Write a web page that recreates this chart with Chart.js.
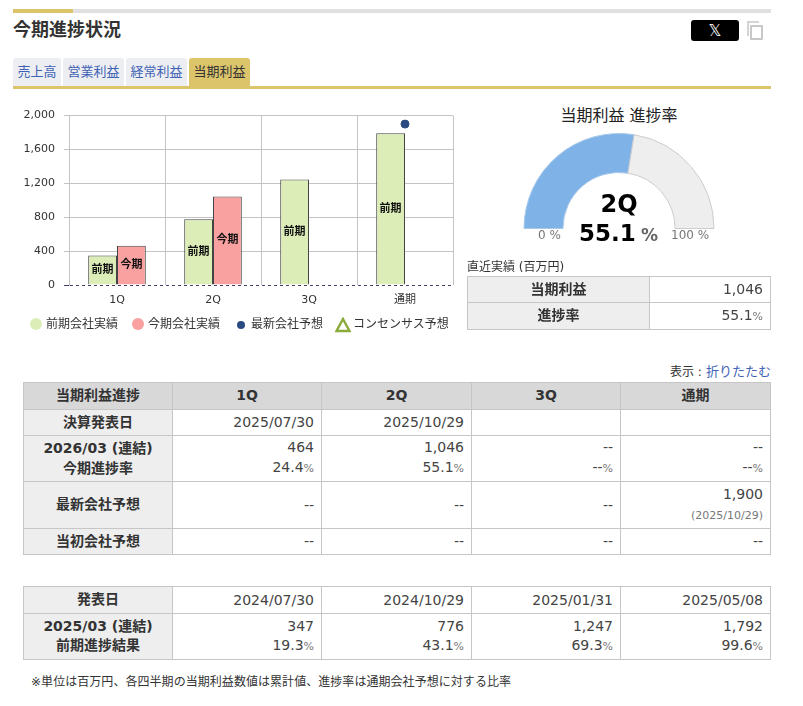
<!DOCTYPE html>
<html lang="ja">
<head>
<meta charset="utf-8">
<script src="https://cdn.jsdelivr.net/npm/chart.js@4"></script>
<style>
* { box-sizing: border-box; }
html, body { margin: 0; padding: 0; background: #fff; }
body { position: relative; width: 803px; height: 706px; overflow: hidden; color: #333; font-family: "DejaVu Sans", "Noto Sans CJK JP", sans-serif; }
.abs { position: absolute; white-space: nowrap; }
.tab { position: absolute; top: 58px; height: 28px; line-height: 27px; text-align: center; font-size: 13px; color: #3f62b5; background: #eceef2; border-radius: 3px 3px 0 0; }
.tab.on { background: #dcc46b; color: #333; }
table { position: absolute; border-collapse: collapse; table-layout: fixed; font-size: 14px; }
td, th { border: 1px solid #c6c6c6; padding: 0 7px 1px 0; text-align: right; font-weight: normal; line-height: 20px; color: #444; }
th { text-align: center; background: #eee; font-weight: bold; padding: 0 0 2px 0; color: #333; }
tr.head th { background: #d8d8d8; }
small { font-size: 11px; color: #777; }
.dot { position: absolute; border-radius: 50%; }
.leg { position: absolute; top: 317px; font-size: 12px; line-height: 15px; white-space: nowrap; }
</style>
</head>
<body>
<div class="abs" style="left:13px;top:9px;width:758px;height:4px;background:#e0e0e0"></div>
<div class="abs" style="left:13px;top:9px;width:60px;height:4px;background:#dcc46b"></div>
<div class="abs" style="left:13px;top:19px;font-size:18px;line-height:22px;font-weight:bold">今期進捗状況</div>
<div class="abs" style="left:691px;top:20px;width:48px;height:21px;background:#000;border-radius:3px;color:#fff;text-align:center;font-size:16px;line-height:21px">𝕏</div>
<div class="abs" style="left:747px;top:21px;width:12px;height:15px;border:2px solid #d4d4d4;border-right:0;border-bottom:0"></div>
<div class="abs" style="left:750px;top:25px;width:13px;height:15px;border:2px solid #c8c8c8;border-radius:1px"></div>

<div class="tab" style="left:13px;width:48px">売上高</div>
<div class="tab" style="left:63px;width:61px">営業利益</div>
<div class="tab" style="left:126px;width:61px">経常利益</div>
<div class="tab on" style="left:189px;width:61px">当期利益</div>
<div class="abs" style="left:13px;top:86px;width:758px;height:3px;background:#dcc46b"></div>

<canvas id="bars" class="abs" width="460" height="220" style="left:0;top:100px"></canvas>

<div class="dot" style="left:30px;top:318px;width:12px;height:12px;background:#dcedb8"></div>
<div class="leg" style="left:46px">前期会社実績</div>
<div class="dot" style="left:132px;top:318px;width:12px;height:12px;background:#f9a0a0"></div>
<div class="leg" style="left:148px">今期会社実績</div>
<div class="dot" style="left:237px;top:321px;width:8px;height:8px;background:#2b4a80"></div>
<div class="leg" style="left:251px">最新会社予想</div>
<svg class="abs" style="left:335px;top:317px" width="16" height="16"><path d="M8 2 L14.5 14 L1.5 14 Z" fill="none" stroke="#8aaa3a" stroke-width="2.4"/></svg>
<div class="leg" style="left:353px">コンセンサス予想</div>

<div class="abs" style="left:519px;width:200px;top:106px;text-align:center;font-size:16px;line-height:20px;color:#222">当期利益 進捗率</div>
<canvas id="gauge" class="abs" width="194" height="98" style="left:522px;top:132px"></canvas>
<div class="abs" style="left:569px;width:100px;top:189px;text-align:center;font-size:24px;line-height:30px;font-weight:bold;color:#000">2Q</div>
<div class="abs" style="left:579px;top:218px;font-size:23px;line-height:30px;font-weight:bold;color:#000">55.1</div>
<div class="abs" style="left:641px;top:222px;font-size:17px;line-height:26px;font-weight:bold;color:#666">%</div>
<div class="abs" style="left:538px;top:228px;font-size:12px;line-height:15px;color:#777">0 %</div>
<div class="abs" style="left:671px;top:228px;font-size:12px;line-height:15px;color:#777">100 %</div>

<div class="abs" style="left:467px;top:260px;font-size:12px;line-height:15px">直近実績 (百万円)</div>
<table style="left:467px;top:276px;width:303px">
<colgroup><col style="width:182px"><col style="width:121px"></colgroup>
<tr style="height:26px"><th>当期利益</th><td>1,046</td></tr>
<tr style="height:27px"><th>進捗率</th><td>55.1<small>%</small></td></tr>
</table>

<div class="abs" style="right:32px;top:364px;font-size:13px;line-height:16px"><span style="font-size:12px">表示 :</span> <span style="color:#3f62b5">折りたたむ</span></div>
<table style="left:23px;top:382px;width:747px">
<colgroup><col style="width:149px"><col style="width:149px"><col style="width:150px"><col style="width:149px"><col style="width:150px"></colgroup>
<tr class="head" style="height:27px"><th>当期利益進捗</th><th>1Q</th><th>2Q</th><th>3Q</th><th>通期</th></tr>
<tr style="height:26px"><th>決算発表日</th><td>2025/07/30</td><td>2025/10/29</td><td></td><td></td></tr>
<tr style="height:46px"><th>2026/03 (連結)<br>今期進捗率</th><td>464<br>24.4<small>%</small></td><td>1,046<br>55.1<small>%</small></td><td>--<br>--<small>%</small></td><td>--<br>--<small>%</small></td></tr>
<tr style="height:47px"><th>最新会社予想</th><td>--</td><td>--</td><td>--</td><td>1,900<br><small>(2025/10/29)</small></td></tr>
<tr style="height:26px"><th>当初会社予想</th><td>--</td><td>--</td><td>--</td><td>--</td></tr>
</table>

<table style="left:23px;top:586px;width:747px;line-height:19px">
<colgroup><col style="width:149px"><col style="width:149px"><col style="width:150px"><col style="width:149px"><col style="width:150px"></colgroup>
<tr style="height:27px"><th>発表日</th><td>2024/07/30</td><td>2024/10/29</td><td>2025/01/31</td><td>2025/05/08</td></tr>
<tr style="height:46px"><th style="line-height:19px">2025/03 (連結)<br>前期進捗結果</th><td style="line-height:19px">347<br>19.3<small>%</small></td><td style="line-height:19px">776<br>43.1<small>%</small></td><td style="line-height:19px">1,247<br>69.3<small>%</small></td><td style="line-height:19px">1,792<br>99.6<small>%</small></td></tr>
</table>

<div class="abs" style="left:31px;top:674px;font-size:12px;line-height:16px;letter-spacing:0.05px">※単位は百万円、各四半期の当期利益数値は累計値、進捗率は通期会社予想に対する比率</div>

<script>
const categories = ['1Q', '2Q', '3Q', '通期'];
const prevActual = [347, 776, 1247, 1792];
const currActual = [464, 1046, null, null];
const latestForecast = [null, null, null, 1900];
const consensus = [null, null, null, null];
const yTicks = [0, 400, 800, 1200, 1600, 2000];
const gaugeValues = [55.1, 44.9];

const FONT = '"DejaVu Sans", "Noto Sans CJK JP", sans-serif';

// 棒の中央に「前期」「今期」を書く
const barLabels = {
    id: 'barLabels',
    afterDatasetsDraw(chart) {
        const ctx = chart.ctx;
        ctx.save();
        ctx.font = 'bold 11px ' + FONT;
        ctx.fillStyle = '#111';
        ctx.textAlign = 'center';
        ctx.textBaseline = 'middle';
        [[0, '前期'], [1, '今期']].forEach(([i, text]) => {
            chart.getDatasetMeta(i).data.forEach((bar, j) => {
                if (chart.data.datasets[i].data[j] == null) return;
                ctx.fillText(text, bar.x, (bar.y + bar.base) / 2);
            });
        });
        ctx.restore();
    }
};

new Chart(document.getElementById('bars'), {
    type: 'bar',
    plugins: [barLabels],
    data: {
        labels: categories,
        datasets: [
            { label: '前期会社実績', data: prevActual, backgroundColor: '#dcedb8', borderColor: '#444', borderWidth: 1, categoryPercentage: 0.6, barPercentage: 1 },
            { label: '今期会社実績', data: currActual, backgroundColor: '#f9a0a0', borderColor: '#444', borderWidth: 1, categoryPercentage: 0.6, barPercentage: 1 },
            { type: 'line', label: '最新会社予想', data: latestForecast, showLine: false, pointRadius: 4, pointBackgroundColor: '#2b4a80', pointBorderColor: '#2b4a80' },
            { type: 'line', label: 'コンセンサス予想', data: consensus, showLine: false, pointStyle: 'triangle', pointRadius: 6, pointBackgroundColor: '#fff', pointBorderColor: '#8aaa3a' }
        ]
    },
    options: {
        responsive: false,
        animation: false,
        devicePixelRatio: 1,
        layout: { padding: { top: 11, right: 7, left: 0, bottom: 0 } },
        plugins: { legend: { display: false }, tooltip: { enabled: false } },
        scales: {
            x: {
                afterFit(scale) { scale.height = 35; },
                grid: { color: '#c4c4c4', drawTicks: false, offset: true },
                border: { display: false },
                ticks: { color: '#333', padding: 9, font: { size: 11, family: FONT } }
            },
            y: {
                min: 0,
                max: 2000,
                afterFit(scale) { scale.width = 69; },
                afterBuildTicks(scale) { scale.ticks = yTicks.map(value => ({ value })); },
                // 0 の線だけ破線
                grid: { color: c => c.tick && c.tick.value === 0 ? '#4a3f6a' : '#c4c4c4', tickLength: 5 },
                border: { color: '#c4c4c4', dash: c => c.tick && c.tick.value === 0 ? [3, 3] : [] },
                ticks: { color: '#333', padding: 9, font: { size: 11, family: FONT }, callback: v => v.toLocaleString('en-US') }
            }
        }
    }
});

new Chart(document.getElementById('gauge'), {
    type: 'doughnut',
    data: {
        datasets: [{
            data: gaugeValues,
            backgroundColor: ['#7fb3e8', '#eeeeee'],
            borderColor: ['#a8c8ea', '#cccccc'],
            borderWidth: 1
        }]
    },
    options: {
        responsive: false,
        animation: false,
        devicePixelRatio: 1,
        rotation: -90,
        circumference: 180,
        cutout: '59%',
        layout: { padding: 1 },
        plugins: { legend: { display: false }, tooltip: { enabled: false } }
    }
});
</script>
</body>
</html>
